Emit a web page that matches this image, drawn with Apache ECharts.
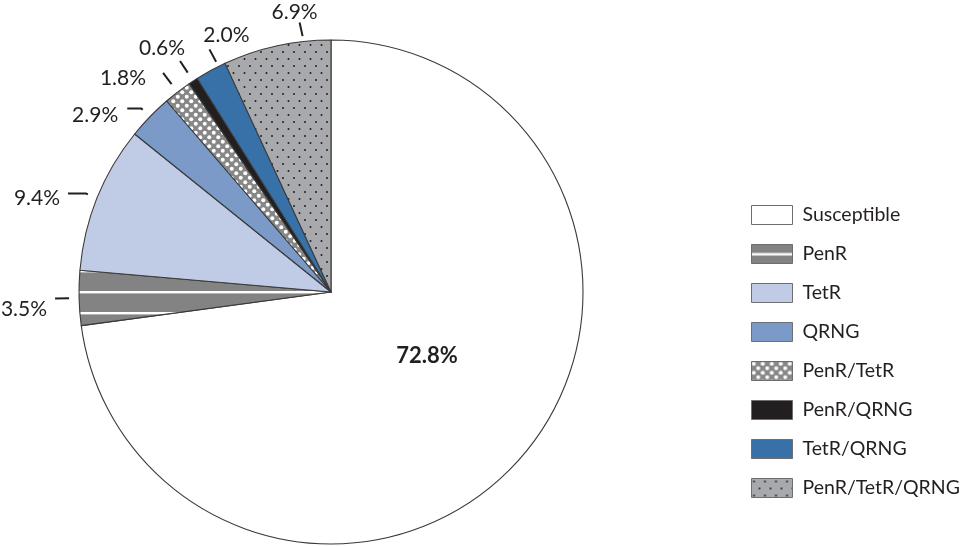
<!DOCTYPE html>
<html><head><meta charset="utf-8">
<script src="https://cdn.jsdelivr.net/npm/echarts@6/dist/echarts.min.js"></script>
<style>html,body{margin:0;padding:0;background:#fff}#c{width:960px;height:546px}</style>
</head><body><div id="c"></div>
<script>
// ---- data ----
const categories = ['Susceptible','PenR','TetR','QRNG','PenR/TetR','PenR/QRNG','TetR/QRNG','PenR/TetR/QRNG'];
const percents = [72.8, 3.5, 9.4, 2.9, 1.8, 0.6, 2.0, 6.9];

// ---- styles ----
const FONT = 'Lato';
const TXT = '#231f20';
function tile(w, h, bg, draw) {
  const c = document.createElement('canvas');
  c.width = w; c.height = h;
  const g = c.getContext('2d');
  g.fillStyle = bg; g.fillRect(0, 0, w, h);
  draw(g);
  return { image: c, repeat: 'repeat' };
}
function dot(g, x, y, r) { g.beginPath(); g.arc(x, y, r, 0, 7); g.fill(); }
const stripesPie = tile(8, 21, '#838383', g => { g.fillStyle = '#fff'; g.fillRect(0, 18, 8, 2.4); });
const stripesLeg = tile(8, 19, '#838383', g => { g.fillStyle = '#fff'; g.fillRect(0, 8.5, 8, 2.4); });
const diamonds = tile(9, 9, '#878787', g => { g.fillStyle = '#fff'; dot(g, 2.25, 2.25, 2); dot(g, 6.75, 6.75, 2); });
const dots = tile(11, 14, '#a7a9ac', g => { g.fillStyle = '#231f20'; dot(g, 2.5, 3, 1); dot(g, 8, 10, 1); });
const fills = ['#ffffff', stripesPie, '#c0cce6', '#7b9ac8', diamonds, '#231f20', '#3870a8', dots];
const legendFills = ['#ffffff', stripesLeg, '#c0cce6', '#7b9ac8', diamonds, '#231f20', '#3870a8', dots];

// label tweaks (index -> layout adjustment)
const labelAdjust = {
  1: { dx: -3, dy: 11 },
  2: { dx: -3, dy: 5 },
  3: { dx: -4, dy: 7 },
  4: { dx: -12, dy: 5 },
  5: { dx: -13, dy: -13, align: 'center' },
  6: { dx: 32, dy: -14, align: 'center', lineShift: 10 },
  7: { dx: 28, dy: -10, align: 'center', lineShift: 28 }
};
const bentLines = { 2: { length: 2, length2: 18 }, 3: { length: 2, length2: 14 } };

const CENTER = [331, 292];
const chart = echarts.init(document.getElementById('c'));
chart.setOption({
  animation: false,
  legend: {
    orient: 'vertical', left: 751, top: 205, padding: 0,
    itemWidth: 41, itemHeight: 19, itemGap: 19,
    icon: 'rect',
    textStyle: { fontFamily: FONT, fontSize: 19.5, color: TXT, padding: [0, 0, 0, 5] },
    itemStyle: { borderColor: '#6d6e71', borderWidth: 1 },
    selectedMode: false,
    data: categories.map((n, i) => ({ name: n, itemStyle: { color: legendFills[i] } }))
  },
  series: [
    {
      type: 'pie', center: CENTER, radius: 252, startAngle: 90, clockwise: true,
      silent: true, avoidLabelOverlap: false,
      itemStyle: { borderColor: '#3a3a3a', borderWidth: 1.1 },
      emphasis: { disabled: true },
      labelLine: { show: false },
      label: { show: false },
      labelLayout: p => p.dataIndex === 0 ? { dx: -1, dy: -21 } : {},
      data: categories.map((n, i) => ({
        name: n, value: percents[i], itemStyle: { color: fills[i] },
        label: i === 0 ? { show: true, position: 'inside', formatter: p => p.value.toFixed(1) + '%', fontFamily: FONT, fontSize: 22, fontWeight: 'bold', color: TXT } : { show: false }
      }))
    },
    {
      type: 'pie', center: CENTER, radius: 262, startAngle: 90, clockwise: true,
      silent: true, avoidLabelOverlap: false,
      itemStyle: { color: 'rgba(0,0,0,0)', borderWidth: 0 },
      emphasis: { disabled: true },
      label: { show: true, formatter: p => p.value.toFixed(1) + '%', fontFamily: FONT, fontSize: 21, color: TXT, distanceToLabelLine: 5 },
      labelLine: { show: true, length: 14, length2: 0, lineStyle: { color: TXT, width: 2 } },
      labelLayout: p => {
        const a = labelAdjust[p.dataIndex];
        if (!a) return {};
        const o = { dx: a.dx, dy: a.dy };
        if (a.align) { o.align = a.align; }
        if (a.lineShift && p.labelLinePoints) o.labelLinePoints = p.labelLinePoints.map(q => [q[0] + a.lineShift, q[1]]);
        return o;
      },
      data: categories.map((n, i) => ({
        name: n, value: percents[i],
        label: { show: i > 0 },
        labelLine: bentLines[i] ? Object.assign({ show: true }, bentLines[i]) : { show: i > 0 }
      }))
    }
  ]
});
</script></body></html>
